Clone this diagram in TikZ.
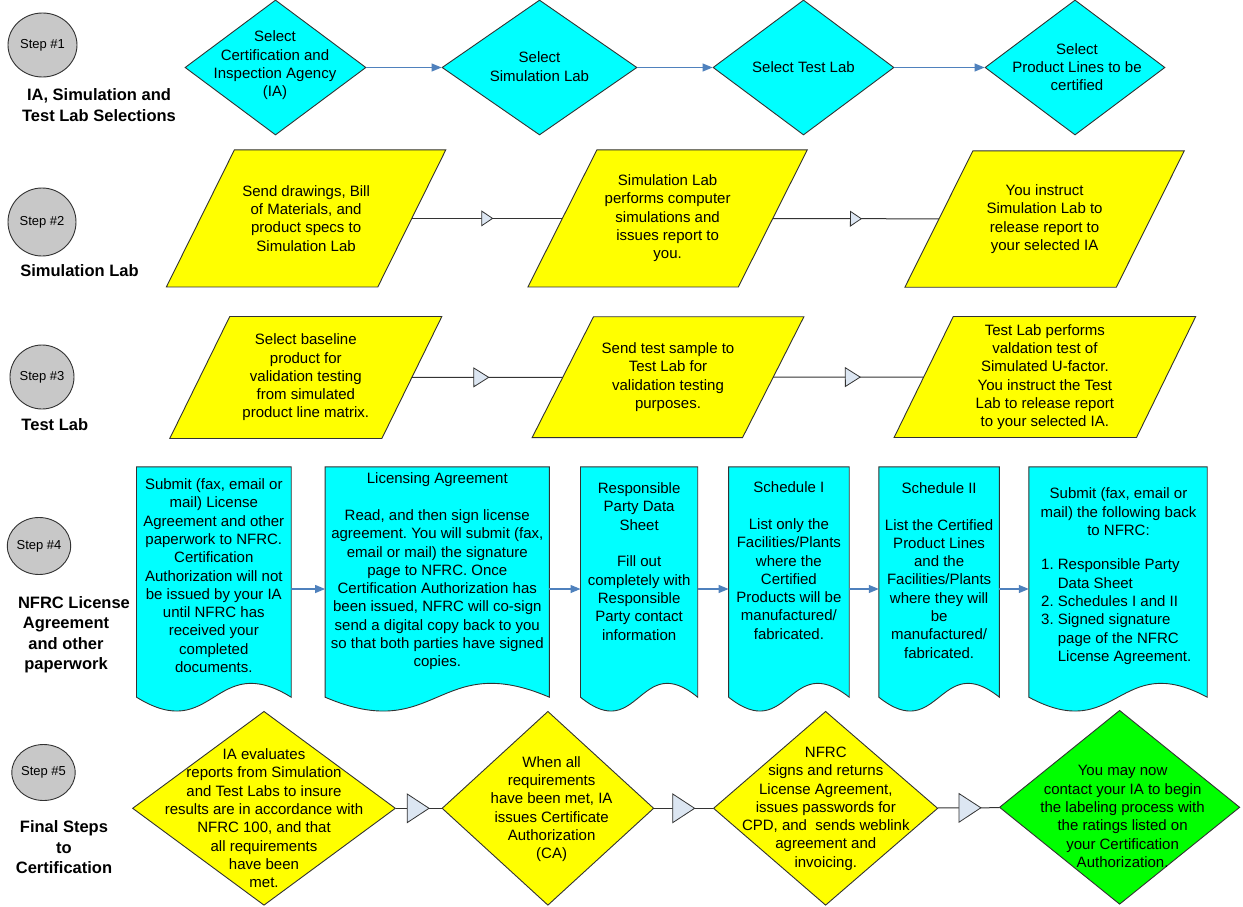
\documentclass[tikz,border=0pt]{standalone}
\usepackage{fontspec}
\setmainfont{Liberation Sans}
\usetikzlibrary{shapes.geometric,arrows.meta,decorations.markings,calc,backgrounds}
\definecolor{cyanF}{RGB}{0,255,255}
\definecolor{yelF}{RGB}{255,255,0}
\definecolor{grnF}{RGB}{0,255,0}
\definecolor{circF}{RGB}{200,200,200}
\definecolor{edgeC}{RGB}{50,50,50}
\definecolor{blueA}{RGB}{79,129,189}
\definecolor{triF}{RGB}{220,230,242}
\newcommand{\paradraw}[3]{%
  \filldraw[fill=#3, draw=edgeC, line width=0.9pt]
    ([xshift=-#2]#1.south west) -- ([xshift=#2]#1.north west) --
    ([xshift=#2]#1.north east) -- ([xshift=-#2]#1.south east) -- cycle;}
\newcommand{\docdraw}[1]{%
  \filldraw[fill=cyanF, draw=edgeC, line width=0.9pt]
    (#1.north west) -- (#1.north east) -- ([yshift=14pt]#1.south east)
    .. controls ([yshift=62pt]#1.south) and ([yshift=-34pt]#1.south) ..
    ([yshift=14pt]#1.south west) -- cycle;}
\tikzset{
  dia/.style 2 args={shape=diamond, draw=edgeC, line width=0.9pt, inner sep=0pt,
    minimum width=#1, minimum height=#2},
  pbox/.style 2 args={rectangle, inner sep=0pt, minimum width=#1, minimum height=#2},
  txt/.style={font=\fontsize{15}{18.3}\selectfont, align=center, inner sep=0pt},
  lbl/.style={font=\fontsize{16.5}{20.3}\selectfont\bfseries, align=center, inner sep=0pt},
  circ/.style 2 args={ellipse, draw=edgeC, fill=circF, line width=0.9pt, inner sep=0pt,
    minimum width=#1, minimum height=#2, font=\fontsize{13}{15}\selectfont},
  barrow/.style={draw=blueA, line width=1.2pt, -{Triangle[length=10pt,width=8pt]}},
  conn/.style={draw=black!80, line width=1pt},
  midtri/.style n args={3}{postaction={decorate},
    decoration={markings, mark=at position #1 with
      {\arrow{Triangle[length=#2,width=#3,fill=triF,color=edgeC,line width=0.8pt]}}}}
}
\begin{document}
\begin{tikzpicture}[x=1pt,y=-1pt]
\useasboundingbox (0,0) rectangle (1243,907);
\frenchspacing
% ---- step circles and labels
\node[circ={69pt}{64pt}] (c1) at (42.5,45) {Step \#1};
\node[circ={68pt}{68pt}] (c2) at (42,222) {Step \#2};
\node[circ={64pt}{64pt}] (c3) at (42,377) {Step \#3};
\node[circ={61pt}{57pt}] (c4) at (39,546) {Step \#4};
\node[circ={59pt}{56pt}] (c5) at (43.5,772.5) {Step \#5};
\node[lbl] (l1) at (99,105) {IA, Simulation and\\Test Lab Selections};
\node[lbl] (l2) at (79.5,271) {Simulation Lab};
\node[lbl] (l3) at (54.8,424.3) {Test Lab};
\node[lbl] (l4) at (66,634.7) {\hspace*{16pt}NFRC License\\Agreement\\and other\\paperwork};
\node[lbl] (l5) at (64,847.2) {Final Steps\\to\\Certification};
% ---- row 1
\node[dia={181pt}{135pt}, fill=cyanF] (d1) at (275.5,67.5) {};
\node[dia={195pt}{135pt}, fill=cyanF] (d2) at (539.5,67.5) {};
\node[dia={181pt}{135pt}, fill=cyanF] (d3) at (803.5,67.5) {};
\node[dia={180pt}{135pt}, fill=cyanF] (d4) at (1075,67.5) {};
\node[txt] (d1t) at (275,65.5) {Select\\Certification and\\Inspection Agency\\(IA)};
\node[txt] (d2t) at (539.5,66.5) {Select\\Simulation Lab};
\node[txt] (d3t) at (803.5,67) {Select Test Lab};
\node[txt] (d4t) at (1077,67) {Select\\Product Lines to be\\certified};
\draw[barrow] (d1) -- (d2);
\draw[barrow] (d2) -- (d3);
\draw[barrow] (d3) -- (d4);
% ---- row 2
\node[pbox={211pt}{136.7pt}, txt] (p1) at (306.1,218.4)
  {Send drawings, Bill\\of Materials, and\\product specs to\\Simulation Lab};
\node[pbox={210pt}{136.7pt}, txt] (p2) at (667.6,218.4)
  {Simulation Lab\\performs computer\\simulations and\\issues report to\\you.};
\node[pbox={211pt}{136pt}, txt] (p3) at (1044.6,219)
  {You instruct\\Simulation Lab to\\release report to\\your selected IA};
% ---- row 3
\node[pbox={211.7pt}{121.6pt}, txt] (p4) at (305.8,377.5)
  {Select baseline\\product for\\validation testing\\from simulated\\product line matrix.};
\node[pbox={210pt}{120.5pt}, txt] (p5) at (668,377.2)
  {Send test sample to\\Test Lab for\\validation testing\\purposes.};
\node[pbox={242pt}{120.6pt}, txt] (p6) at (1044.9,377)
  {Test Lab performs\\valdation test of\\Simulated U-factor.\\You instruct the Test\\Lab to release report\\to your selected IA.};
% ---- row 4 (documents)
\node[pbox={154.3pt}{244pt}] (k1) at (213.85,589) {};
\node[pbox={223.9pt}{244pt}] (k2) at (437.25,589) {};
\node[pbox={116.8pt}{244pt}] (k3) at (639.1,589) {};
\node[pbox={120.2pt}{244pt}] (k4) at (788.9,589) {};
\node[pbox={120.2pt}{244pt}] (k5) at (939.1,589) {};
\node[pbox={178pt}{244pt}] (k6) at (1118,589) {};
% ---- row 5
\node[dia={263pt}{194pt}, fill=yelF] (e1) at (264,808.3) {};
\node[dia={211.8pt}{194pt}, fill=yelF] (e2) at (547.9,808.3) {};
\node[dia={224.4pt}{194pt}, fill=yelF] (e3) at (825.6,808.3) {};
\node[dia={240.4pt}{194pt}, fill=grnF] (e4) at (1119.6,807.3) {};
% ---- backgrounds
\begin{pgfonlayer}{background}
  \fill[white] (0,0) rectangle (1243,907);
  \paradraw{p1}{34pt}{yelF}
  \paradraw{p2}{34.5pt}{yelF}
  \paradraw{p3}{34pt}{yelF}
  \paradraw{p4}{30pt}{yelF}
  \paradraw{p5}{30.7pt}{yelF}
  \paradraw{p6}{29.6pt}{yelF}
  \docdraw{k1}
  \docdraw{k2}
  \docdraw{k3}
  \docdraw{k4}
  \docdraw{k5}
  \docdraw{k6}
\end{pgfonlayer}
% ---- document texts
\node[txt] (k1t) at (213.8,575.7) {Submit (fax, email or\\mail) License\\Agreement and other\\paperwork to NFRC.\\Certification\\Authorization will not\\be issued by your IA\\until NFRC has\\received your\\completed\\documents.};
\node[txt] (k2t) at (437.3,571.5) {Licensing Agreement\\[18.3pt]Read, and then sign license\\agreement. You will submit (fax,\\email or mail) the signature\\page to NFRC. Once\\Certification Authorization has\\been issued, NFRC will co-sign\\send a digital copy back to you\\so that both parties have signed\\copies.};
\node[txt] (k3t) at (639.1,561.5) {Responsible\\Party Data\\Sheet\\[18.3pt]Fill out\\completely with\\Responsible\\Party contact\\information};
\node[txt] (k4t) at (788.9,560.7) {Schedule I\\[18.3pt]List only the\\Facilities/Plants\\where the\\Certified\\Products will be\\manufactured/\\fabricated.};
\node[txt] (k5t) at (939.1,570.4) {Schedule II\\[18.3pt]List the Certified\\Product Lines\\and the\\Facilities/Plants\\where they will\\be\\manufactured/\\fabricated.};
\node[txt] (k6a) at (1118.5,511.7) {Submit (fax, email or\\mail) the following back\\to NFRC:};
\node[txt, align=left, anchor=west] (k6b) at (1041,611.7) {1. Responsible Party\\\hphantom{1. }Data Sheet\\2. Schedules I and II\\3. Signed signature\\\hphantom{3. }page of the NFRC\\\hphantom{3. }License Agreement.};
\draw[barrow] (k1) -- (k2);
\draw[barrow] (k2) -- (k3);
\draw[barrow] (k3) -- (k4);
\draw[barrow] (k4) -- (k5);
\draw[barrow] (k5) -- (k6);
% ---- row 5 texts
\node[txt] (e1t) at (264,818.3) {IA evaluates\\reports from Simulation\\and Test Labs to insure\\results are in accordance with\\NFRC 100, and that\\all requirements\\have been\\met.};
\node[txt] (e2t) at (551.6,809) {When all\\requirements\\have been met, IA\\issues Certificate\\Authorization\\(CA)};
\node[txt] (e3t) at (825.8,808.7) {NFRC\\signs and returns\\License Agreement,\\issues passwords for\\CPD, and\ \ sends weblink\\agreement and\\invoicing.};
\node[txt] (e4t) at (1122.6,816.5) {You may now\\contact your IA to begin\\the labeling process with\\the ratings listed on\\your Certification\\Authorization.};
% ---- connectors with mid triangles
\draw[conn, midtri={0.541}{12pt}{16pt}] (p1) -- (p2);
\draw[conn, midtri={0.537}{12pt}{16pt}] (p2) -- (p3);
\draw[conn, midtri={0.514}{16pt}{20pt}] (p4) -- (p5);
\draw[conn, midtri={0.583}{16pt}{20pt}] (p5) -- (p6);
\draw[conn, midtri={0.742}{23pt}{30pt}] (e1) -- (e2);
\draw[conn, midtri={0.70}{23pt}{30pt}] (e2) -- (e3);
\draw[conn, midtri={0.71}{23pt}{30pt}] (e3) -- (e4);
\end{tikzpicture}
\end{document}
